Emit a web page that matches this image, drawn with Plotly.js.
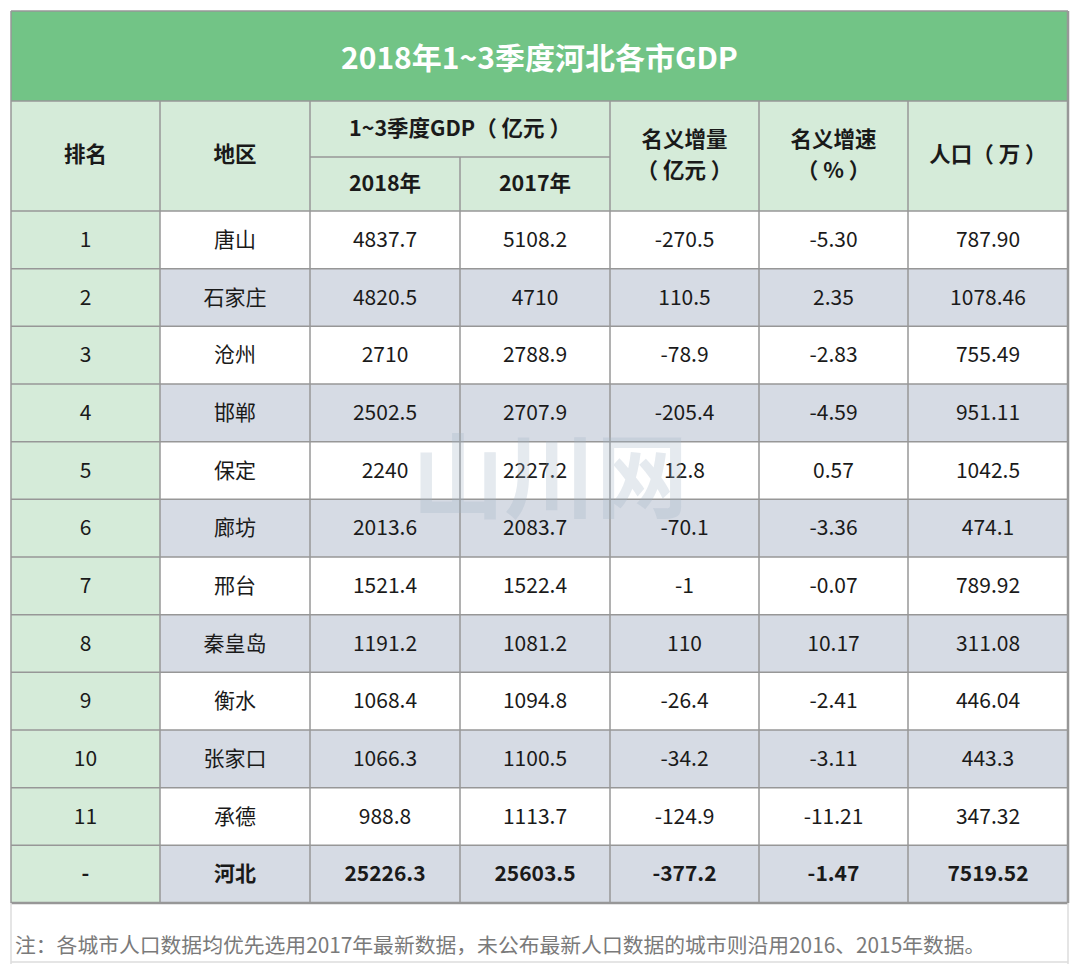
<!DOCTYPE html>
<html><head><meta charset="utf-8">
<script src="https://cdn.plot.ly/plotly-3.0.1.min.js"></script>
<style>html,body{margin:0;padding:0;background:#fff}</style>
</head><body><div id="chart" style="width:1080px;height:964px"></div>
<script>
const title = '2018年1~3季度河北各市GDP';
const ranks = ['1','2','3','4','5','6','7','8','9','10','11','-'];
const regions = ['唐山','石家庄','沧州','邯郸','保定','廊坊','邢台','秦皇岛','衡水','张家口','承德','河北'];
const gdp2018 = ['4837.7','4820.5','2710','2502.5','2240','2013.6','1521.4','1191.2','1068.4','1066.3','988.8','25226.3'];
const gdp2017 = ['5108.2','4710','2788.9','2707.9','2227.2','2083.7','1522.4','1081.2','1094.8','1100.5','1113.7','25603.5'];
const increase = ['-270.5','110.5','-78.9','-205.4','12.8','-70.1','-1','110','-26.4','-34.2','-124.9','-377.2'];
const growth = ['-5.30','2.35','-2.83','-4.59','0.57','-3.36','-0.07','10.17','-2.41','-3.11','-11.21','-1.47'];
const population = ['787.90','1078.46','755.49','951.11','1042.5','474.1','789.92','311.08','446.04','443.3','347.32','7519.52'];
const headerTop = ['排名','地区','1~3季度GDP（ 亿元 ）','名义增量','名义增速','人口（ 万 ）'];
const headerUnits = ['（ 亿元 ）','（ % ）'];
const headerSub = ['2018年','2017年'];
const note = '注：各城市人口数据均优先选用2017年最新数据，未公布最新人口数据的城市则沿用2016、2015年数据。';
const watermark = '山川网';

// layout geometry (pixels)
const colEdges = [11,160,310,460,610,759,908,1068];
const titleTop = 11, headTop = 101, headMid = 157, bodyTop = 211, bodyBottom = 903;
const nRows = ranks.length;
const rowH = (bodyBottom - bodyTop) / nRows;
const GREEN = '#72c486', HEAD = '#d5ebd9', GRAY = '#d6dbe4', LINE = '#979797';
const FONT = '"Noto Sans CJK SC", "Noto Sans", sans-serif';

const cols = [ranks, regions, gdp2018, gdp2017, increase, growth, population];
const shapes = [];
function rect(x0,y0,x1,y1,fill){shapes.push({type:'rect',xref:'x',yref:'y',x0,y0,x1,y1,fillcolor:fill,line:{width:0},layer:'below'});}
function line(x0,y0,x1,y1,c,w){shapes.push({type:'line',xref:'x',yref:'y',x0,y0,x1,y1,line:{color:c||LINE,width:w||1.5}});}

// fills
rect(colEdges[0], titleTop, colEdges[7], headTop, GREEN);
rect(colEdges[0], headTop, colEdges[7], bodyTop, HEAD);
for (let r=0;r<nRows;r++){
  const y0 = bodyTop + r*rowH, y1 = y0 + rowH;
  rect(colEdges[0], y0, colEdges[1], y1, HEAD);
  rect(colEdges[1], y0, colEdges[7], y1, r%2===1 ? GRAY : '#ffffff');
}
// grid lines
line(colEdges[0], titleTop, colEdges[7], titleTop);
line(colEdges[0], headTop, colEdges[7], headTop);
line(colEdges[2], headMid, colEdges[4], headMid);
for (let r=0;r<=nRows;r++){ const y = bodyTop + r*rowH; line(colEdges[0], y, colEdges[7], y, LINE, r===nRows?2.5:1.5); }
line(colEdges[0], titleTop, colEdges[0], bodyBottom);
line(colEdges[7], titleTop, colEdges[7], bodyBottom, LINE, 2.5);
for (let c=1;c<7;c++){ line(colEdges[c], c===3?headMid:headTop, colEdges[c], bodyBottom); }
// faint footer frame
line(colEdges[0], bodyBottom, colEdges[0], 964, '#dddddd', 1.5);
line(colEdges[7], bodyBottom, colEdges[7], 964, '#dddddd', 1.5);
line(colEdges[0], 962, colEdges[7], 962, '#dddddd', 1.5);

const centers = colEdges.slice(0,7).map((e,i)=>(e+colEdges[i+1])/2);
const traces = [];
// body text
cols.forEach((vals,c)=>{
  traces.push({type:'scatter',mode:'text',hoverinfo:'skip',
    x: vals.map(()=>centers[c]),
    y: vals.map((v,r)=>bodyTop + (r+0.5)*rowH + 2),
    text: vals.map((v,r)=> r===nRows-1 ? '<b>'+v+'</b>' : v),
    textfont:{family:FONT,size:21,color:'#1a1a1a'}});
});
// header text
const headCenter = (headTop+bodyTop)/2 + 1;
const headX = [centers[0], centers[1], (colEdges[2]+colEdges[4])/2, centers[4], centers[5], centers[6]];
const headY = [headCenter, headCenter, (headTop+headMid)/2 + 2, headCenter - 15, headCenter - 15, headCenter];
traces.push({type:'scatter',mode:'text',hoverinfo:'skip',x:headX,y:headY,
  text: headerTop.map(t=>'<b>'+t+'</b>'),textfont:{family:FONT,size:21.5,color:'#1a1a1a'}});
traces.push({type:'scatter',mode:'text',hoverinfo:'skip',x:[centers[4],centers[5]],y:[headCenter+16,headCenter+16],
  text: headerUnits.map(t=>'<b>'+t+'</b>'),textfont:{family:FONT,size:21.5,color:'#1a1a1a'}});
traces.push({type:'scatter',mode:'text',hoverinfo:'skip',x:[centers[2],centers[3]],y:[(headMid+bodyTop)/2+2,(headMid+bodyTop)/2+2],
  text: headerSub.map(t=>'<b>'+t+'</b>'),textfont:{family:FONT,size:21.5,color:'#1a1a1a'}});

const annotations = [
  {xref:'x',yref:'y',x:(colEdges[0]+colEdges[7])/2,y:(titleTop+headTop)/2,text:'<b>'+title+'</b>',showarrow:false,
   font:{family:FONT,size:30,color:'#ffffff'}},
  {xref:'x',yref:'y',x:13,y:944,xanchor:'left',text:note,showarrow:false,
   font:{family:FONT,size:20.8,color:'#7a7a7a'}},
  {xref:'x',yref:'y',x:550,y:470,text:'<b>'+watermark+'</b>',showarrow:false,
   font:{family:FONT,size:92,color:'rgba(160,178,196,0.28)'}}
];

const layout = {
  width:1080,height:964,margin:{l:0,r:0,t:0,b:0},paper_bgcolor:'#ffffff',plot_bgcolor:'#ffffff',
  showlegend:false,
  xaxis:{range:[0,1080],visible:false,fixedrange:true},
  yaxis:{range:[964,0],visible:false,fixedrange:true},
  shapes, annotations
};
Plotly.newPlot('chart', traces, layout, {displayModeBar:false,staticPlot:true});
</script></body></html>
